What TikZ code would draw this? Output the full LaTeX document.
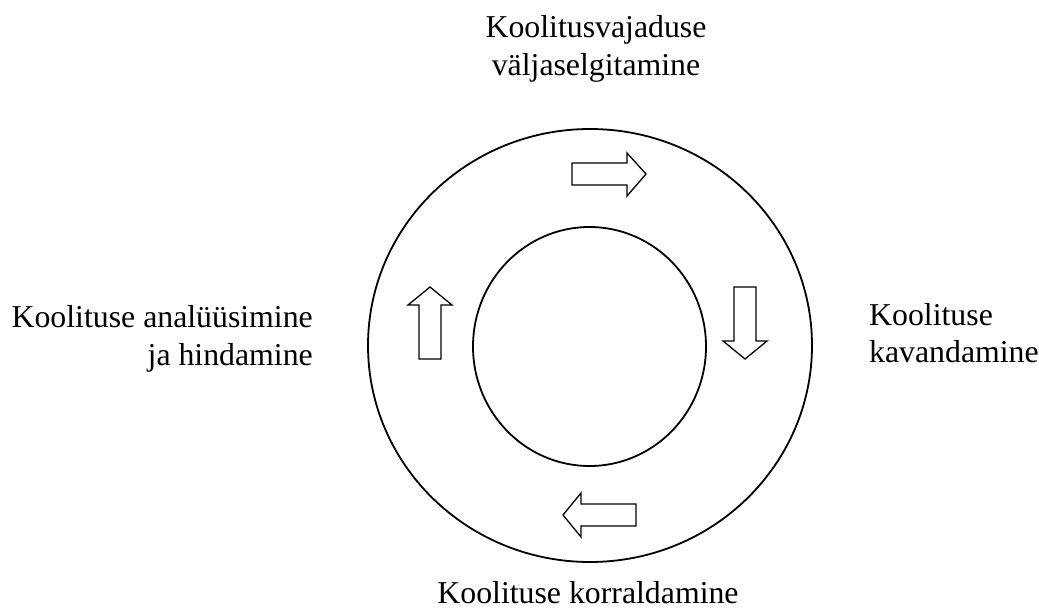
\documentclass[tikz,border=0pt]{standalone}
\usepackage{fontspec}
\setmainfont{Liberation Serif}
\begin{document}
\begin{tikzpicture}[x=1pt,y=-1pt,
  ring/.style={line width=1.8pt},
  blockarrow/.style={line width=1.3pt, line join=miter},
  label/.style={inner sep=0pt, font=\fontsize{31.8}{37.5}\selectfont}]
\useasboundingbox (0,0) rectangle (1039,608);
% circles
\draw[ring] (590,345.5) ellipse [x radius=222, y radius=216.5];
\draw[ring] (589.5,346.5) ellipse [x radius=116.5, y radius=119.5];
% block arrows
\draw[blockarrow] (572,163) -- (627,163) -- (627,153) -- (646,174) -- (627,196) -- (627,185) -- (572,185) -- cycle;
\draw[blockarrow] (734,287) -- (756,287) -- (756,341) -- (767,341) -- (745,359) -- (723,341) -- (734,341) -- cycle;
\draw[blockarrow] (636,504) -- (581,504) -- (581,493) -- (563,515) -- (581,537) -- (581,526) -- (636,526) -- cycle;
\draw[blockarrow] (419,359) -- (419,305) -- (408,305) -- (430,287) -- (452,305) -- (441,305) -- (441,359) -- cycle;
% labels
\node[label, align=center] (top) at (596,49) {Koolitusvajaduse\\väljaselgitamine};
\node[label, align=left, anchor=west] (right) at (869,333) {Koolituse\\kavandamine};
\node[label, align=right, anchor=east] (left) at (313,339) {Koolituse analüüsimine\\ja hindamine};
\node[label, anchor=base] (bottom) at (588,603) {Koolituse korraldamine};
\end{tikzpicture}
\end{document}
